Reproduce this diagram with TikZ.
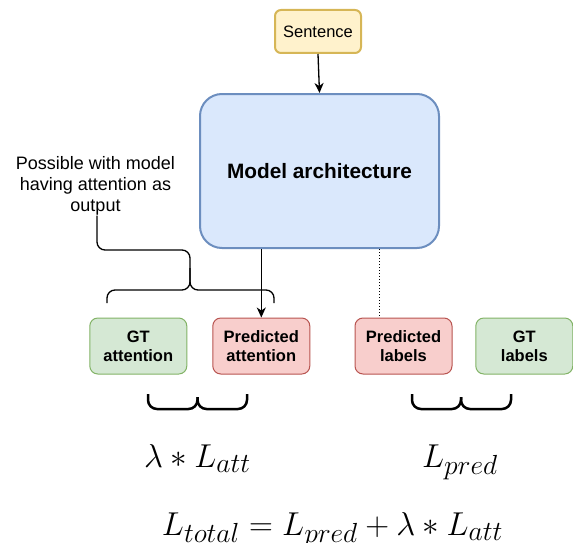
\documentclass[tikz,border=0pt]{standalone}
\usepackage{graphicx}
\usepackage[no-math]{fontspec}
\setmainfont{Liberation Sans}
\usetikzlibrary{arrows.meta,calc}
\definecolor{yfill}{HTML}{FFF2CC}\definecolor{ydraw}{HTML}{D6B656}
\definecolor{bfill}{HTML}{DAE8FC}\definecolor{bdraw}{HTML}{6C8EBF}
\definecolor{gfill}{HTML}{D5E8D4}\definecolor{gdraw}{HTML}{82B366}
\definecolor{rfill}{HTML}{F8CECC}\definecolor{rdraw}{HTML}{B85450}
\newcommand{\bigmath}[1]{\scalebox{1.33}{\fontsize{24.88}{30}\selectfont$#1$}}
\tikzset{
  smallbox/.style={rounded corners=8pt, line width=1pt, minimum width=97pt, minimum height=56pt, align=center, inner sep=0pt, font=\fontsize{16.5}{19}\selectfont\bfseries},
  gtbox/.style={smallbox, fill=gfill, draw=gdraw},
  predbox/.style={smallbox, fill=rfill, draw=rdraw},
  conn/.style={line width=1.3pt, -{Stealth[length=10pt,width=9pt,inset=3pt]}},
  bracel/.style={line width=1.3pt, rounded corners=8pt},
  bigbrace/.style={line width=2.5pt, rounded corners=9pt},
  mathlbl/.style={inner sep=0pt, anchor=base}
}
\begin{document}
\begin{tikzpicture}[x=1pt,y=-1pt]
\useasboundingbox (0,0) rectangle (573,543);
\node[draw=ydraw, fill=yfill, line width=2pt, rounded corners=6pt, minimum width=86pt, minimum height=43pt, inner sep=0pt, font=\fontsize{16.5}{19}\selectfont] (sent) at (318,31.5) {Sentence};
\node[draw=bdraw, fill=bfill, line width=2pt, rounded corners=22pt, minimum width=239pt, minimum height=154pt, inner sep=0pt, font=\fontsize{20.8}{24}\selectfont\bfseries] (model) at (319.5,171) {Model architecture};
\node[gtbox] (gtatt) at (138.3,346) {GT\\attention};
\node[predbox] (predatt) at (261.3,346) {Predicted\\attention};
\node[predbox] (predlab) at (403.5,346) {Predicted\\labels};
\node[gtbox] (gtlab) at (524.3,346) {GT\\labels};
\node[align=center, inner sep=0pt, font=\fontsize{18}{21}\selectfont] (note) at (95.5,186) {Possible with model\\having attention as\\output};

\draw[conn] (sent.south) -- (model.north);
\draw[conn] (predatt.north |- model.south) -- (predatt.north);
\coordinate (dl) at ([xshift=-24.5pt]predlab.north);
\draw[dotted, line width=1pt] (dl |- model.south) -- (dl);

\coordinate (bl) at (107,303);
\coordinate (br) at (274,303);
\coordinate (bt) at (190,290);
\draw[bracel] (bl) -- (bl |- bt) -- (bt) -- (190,250) -- (97,250) -- ([xshift=1.5pt]note.south);
\draw[bracel] (br) -- (br |- bt) -- (bt) -- (190,268);

\coordinate (b1l) at (148,394);
\coordinate (b1r) at (247,394);
\coordinate (b1t) at (197.5,409);
\coordinate (b2l) at (412,394);
\coordinate (b2r) at (511,394);
\coordinate (b2t) at (461,409);
\draw[bigbrace] (b1l) -- (b1l |- b1t) -- (b1t) -- ([yshift=12pt]b1t);
\draw[bigbrace] (b1r) -- (b1r |- b1t) -- (b1t) -- ([yshift=12pt]b1t);
\draw[bigbrace] (b2l) -- (b2l |- b2t) -- (b2t) -- ([yshift=12pt]b2t);
\draw[bigbrace] (b2r) -- (b2r |- b2t) -- (b2t) -- ([yshift=12pt]b2t);

\node[mathlbl] (latt) at (197.5,467) {\bigmath{\lambda * L_{att}}};
\node[mathlbl] (lpred) at (460,467) {\bigmath{L_{pred}}};
\node[mathlbl] (ltot) at (332.5,535) {\bigmath{L_{total} = L_{pred} + \lambda * L_{att}}};
\end{tikzpicture}
\end{document}
